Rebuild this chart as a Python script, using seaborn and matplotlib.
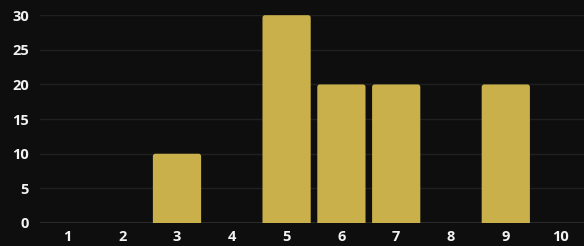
import matplotlib
matplotlib.use("Agg")
import matplotlib.pyplot as plt
from matplotlib.patches import FancyBboxPatch
import seaborn as sns
import pandas as pd

categories = ["1", "2", "3", "4", "5", "6", "7", "8", "9", "10"]
values = [0, 0, 10, 0, 30, 20, 20, 0, 20, 0]
yticks = [0, 5, 10, 15, 20, 25, 30]

df = pd.DataFrame({"cat": categories, "val": values})

sns.set_style("dark")
plt.rcParams["font.family"] = ["Open Sans", "DejaVu Sans"]

bg = "#0e0e0e"
bar_color = "#cab04a"
fig = plt.figure(figsize=(5.84, 2.46), dpi=100, facecolor=bg)
ax = fig.add_axes([40/584, 23/246, 548/584, 208.5/246], facecolor=bg)

sns.barplot(data=df, x="cat", y="val", color=bar_color, saturation=1,
            width=0.88, ax=ax, zorder=3)

ax.set_xlim(-0.5, 9.5)
ax.set_ylim(0, 30.1)

# round the top corners of the bars slightly (bottom corners clipped by axes)
xu = 10 / 548
yu = 30.1 / 208.5
for p in list(ax.patches):
    h = p.get_height()
    x, y, w = p.get_x(), p.get_y(), p.get_width()
    p.set_visible(False)
    if h <= 0:
        continue
    fb = FancyBboxPatch((x, y - 6 * yu), w, h + 6 * yu,
                        boxstyle=f"round,pad=0,rounding_size={2.5*xu}",
                        mutation_aspect=yu / xu,
                        facecolor=bar_color, edgecolor="none", zorder=3)
    ax.add_patch(fb)

ax.set_yticks(yticks)
ax.set_yticklabels([str(t) for t in yticks])
ax.grid(axis="y", color="#202020", linewidth=1, zorder=0)
ax.grid(axis="x", visible=False)
ax.axhline(0, color="#303030", linewidth=1.2, zorder=2)
for s in ax.spines.values():
    s.set_visible(False)
ax.set_xlabel("")
ax.set_ylabel("")
ax.tick_params(axis="both", length=0, colors="#f2f2f2", labelsize=10.5)
ax.tick_params(axis="y", pad=8)
ax.tick_params(axis="x", pad=5)
for lab in ax.get_xticklabels() + ax.get_yticklabels():
    lab.set_fontweight("bold")
    lab.set_color("#f2f2f2")

fig.savefig("out.png", dpi=100, facecolor=bg)
